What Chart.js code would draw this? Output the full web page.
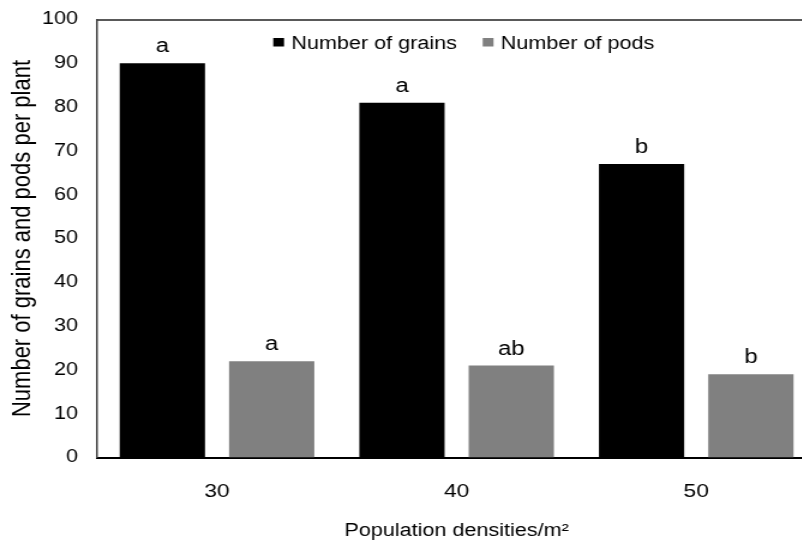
<!DOCTYPE html>
<html>
<head>
<meta charset="utf-8">
<script src="https://cdn.jsdelivr.net/npm/chart.js@4.4.1/dist/chart.umd.min.js"></script>
<style>
  html, body { margin: 0; padding: 0; background: #fff; overflow: hidden; }
</style>
</head>
<body>
<!-- the original picture is stretched sideways, so the canvas is drawn narrow and shown wide -->
<canvas id="chart" width="690" height="542" style="display:block;width:828px;height:542px"></canvas>
<script>
const densities = ['30', '40', '50'];
const grains = [90, 81, 67];
const pods = [22, 21, 19];
const grainLetters = ['a', 'a', 'b'];
const podLetters = ['a', 'ab', 'b'];
const yTicks = [0, 10, 20, 30, 40, 50, 60, 70, 80, 90, 100];

const FONT = '"Liberation Sans", Arial, sans-serif';
Chart.defaults.font.family = FONT;
Chart.defaults.color = '#000';

// letters of significance above each bar
const letterPlugin = {
    id: 'letters',
    afterDatasetsDraw(chart) {
        const ctx = chart.ctx;
        const letters = [grainLetters, podLetters];
        ctx.save();
        ctx.font = '20px ' + FONT;
        ctx.fillStyle = '#000';
        ctx.textAlign = 'center';
        ctx.textBaseline = 'alphabetic';
        chart.data.datasets.forEach((ds, i) => {
            chart.getDatasetMeta(i).data.forEach((bar, j) => {
                ctx.fillText(letters[i][j], bar.x, bar.y - 11);
            });
        });
        ctx.restore();
    }
};

// legend sits inside the plot, at the top, in one row
const insideLegend = {
    id: 'insideLegend',
    afterDraw(chart) {
        const ctx = chart.ctx;
        const area = chart.chartArea;
        const box = 9, gap = 6, spacing = 21.5;
        ctx.save();
        ctx.font = '18px ' + FONT;
        ctx.textBaseline = 'alphabetic';
        ctx.textAlign = 'left';
        const items = chart.data.datasets.map(ds => ({
            text: ds.label, color: ds.backgroundColor, w: ctx.measureText(ds.label).width
        }));
        let total = items.reduce((s, it) => s + box + gap + it.w, 0) + spacing * (items.length - 1);
        let x = (area.left + area.right) / 2 + 6 - total / 2;
        const base = area.top + 29;
        items.forEach(it => {
            ctx.fillStyle = it.color;
            ctx.fillRect(x, base - 10.5, box, 8.5);
            ctx.fillStyle = '#000';
            ctx.fillText(it.text, x + box + gap, base);
            x += box + gap + it.w + spacing;
        });
        ctx.restore();
    }
};

const ctx = document.getElementById('chart').getContext('2d');
const chart = new Chart(ctx, {
    type: 'bar',
    data: {
        labels: densities,
        datasets: [{
            label: 'Number of grains',
            data: grains,
            backgroundColor: '#000000',
            categoryPercentage: 0.9125,
            barPercentage: 0.78
        }, {
            label: 'Number of pods',
            data: pods,
            backgroundColor: '#808080',
            categoryPercentage: 0.9125,
            barPercentage: 0.78
        }]
    },
    options: {
        responsive: false,
        maintainAspectRatio: false,
        animation: false,
        layout: { padding: { top: 19.5, right: 10, left: 0, bottom: 0 } },
        plugins: {
            tooltip: { enabled: false },
            legend: { display: false }
        },
        scales: {
            x: {
                grid: { display: false, drawTicks: false },
                border: { color: '#000', width: 2 },
                ticks: { font: { size: 19 }, padding: 23 },
                title: {
                    display: true,
                    text: 'Population densities/m²',
                    font: { size: 18 },
                    padding: { top: 0, bottom: 0 }
                },
                afterFit(scale) { scale.height = 84.5; }
            },
            x2: {
                position: 'top',
                labels: densities,
                grid: { display: false, drawTicks: false },
                border: { color: '#595959', width: 2 },
                ticks: { display: false },
                afterFit(scale) { scale.height = 0; }
            },
            y: {
                min: 0,
                max: 100,
                afterBuildTicks(scale) { scale.ticks = yTicks.map(v => ({ value: v })); },
                grid: { display: false, drawTicks: false },
                border: { color: '#404040', width: 1.5 },
                ticks: { font: { size: 18 }, padding: 16 },
                title: {
                    display: true,
                    text: 'Number of grains and pods per plant',
                    font: { size: 22 },
                    padding: { top: 6, bottom: 0 }
                },
                afterFit(scale) {
                    scale.width = 81;
                    scale.paddingTop = 0;
                    scale.paddingBottom = 0;
                }
            }
        }
    },
    plugins: [letterPlugin, insideLegend]
});
</script>
</body>
</html>
